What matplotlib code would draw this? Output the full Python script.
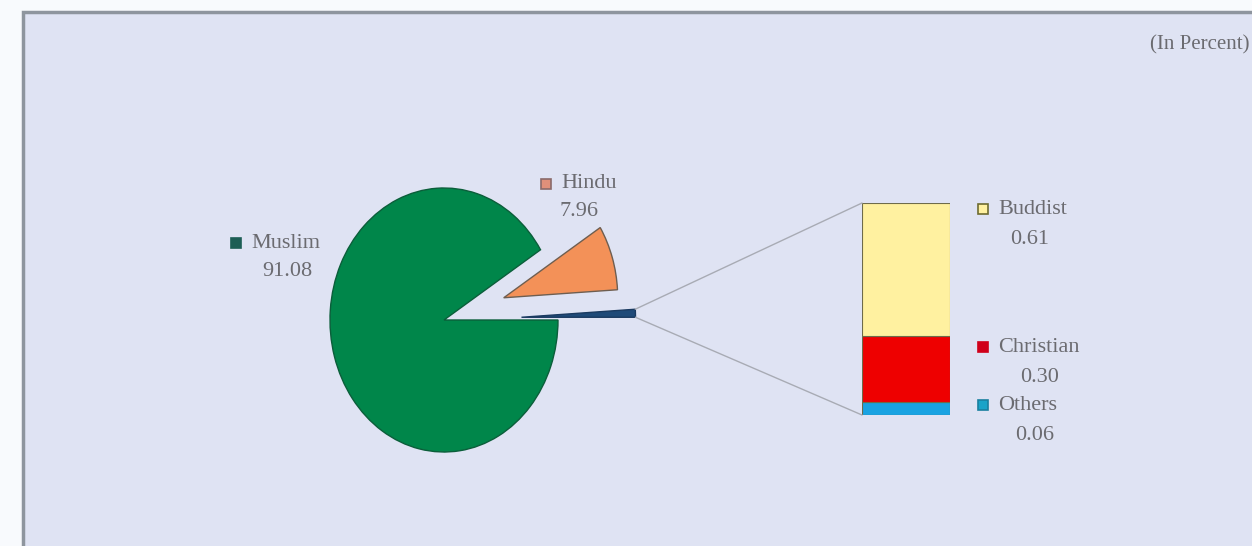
import matplotlib
matplotlib.use("Agg")
import matplotlib.pyplot as plt
from matplotlib.patches import ConnectionPatch, Rectangle
import numpy as np

# pie data (counterclockwise from 0 deg): combined small groups, Hindu, Muslim
pie_names = ["Others", "Hindu", "Muslim"]
pie_values = [0.97, 7.96, 91.08]
pie_colors = ["#1F4A78", "#F39158", "#00864A"]
pie_edges = ["#1A3A60", "#6E5E50", "#0B5E3A"]
pie_explode = [0.68, 0.55, 0.0]

# bar data (bottom to top)
bar_names = ["Others", "Christian", "Buddist"]
bar_values = [0.06, 0.30, 0.61]
bar_colors = ["#1AA3E2", "#EE0000", "#FFF1A0"]

W, H = 1252, 546
fig = plt.figure(figsize=(W / 100, H / 100), dpi=100)
fig.patch.set_facecolor("#F8FAFD")

# background panel in pixel coords
bg = fig.add_axes([0, 0, 1, 1])
bg.set_xlim(0, W)
bg.set_ylim(H, 0)
bg.axis("off")
bg.add_patch(Rectangle((23, 12), 1260, 560, facecolor="#DFE3F3",
                       edgecolor="#8E959E", lw=2.5))

def px_axes(x0, y0, x1, y1):
    return fig.add_axes([x0 / W, 1 - y1 / H, (x1 - x0) / W, (y1 - y0) / H])

# pie axes: center (444, 320), rx 114 px, ry 132 px
cx, cy, rx, ry = 444, 320, 114, 132
ax = px_axes(cx - 2.2 * rx, cy - 1.6 * ry, cx + 2.2 * rx, cy + 1.6 * ry)
wedges, _ = ax.pie(pie_values, colors=pie_colors, explode=pie_explode,
                   startangle=0, counterclock=True,
                   wedgeprops=dict(linewidth=1.0))
for w, ec in zip(wedges, pie_edges):
    w.set_edgecolor(ec)
ax.set_aspect("auto")
ax.set_xlim(-2.2, 2.2)
ax.set_ylim(-1.6, 1.6)
ax.axis("off")

# stacked bar
bx = px_axes(862, 203, 950, 415)
bottom = 0
for v, c in zip(bar_values, bar_colors):
    bx.bar(0, v, width=1, bottom=bottom, color=c, align="edge",
           edgecolor="#6E6B4A", linewidth=0.8)
    bottom += v
bx.set_xlim(0, 1)
bx.set_ylim(0, sum(bar_values))
bx.axis("off")

# connector lines from the small wedge to the bar
sw = wedges[0]
wcx, wcy = sw.center
for th, yb in [(sw.theta2, sum(bar_values)), (sw.theta1, 0)]:
    p = (wcx + sw.r * np.cos(np.radians(th)), wcy + sw.r * np.sin(np.radians(th)))
    con = ConnectionPatch(xyA=p, coordsA=ax.transData, xyB=(0, yb),
                          coordsB=bx.transData, color="#A8ABB4", lw=1.0)
    fig.add_artist(con)

# labels with small keys
font = dict(family="Liberation Serif", color="#6B6B70", fontsize=16)
labels = [
    ("Muslim", "91.08", "#1D5E55", "#1D5E55", 236, 243, 287, 272),
    ("Hindu", "7.96", "#E0907A", "#8A6A6A", 546, 184, 579, 211),
    (bar_names[2], "%.2f" % bar_values[2], "#FFF1A0", "#6E6B30", 983, 209, 1030, 240),
    (bar_names[1], "%.2f" % bar_values[1], "#D0001A", "#D0001A", 983, 347, 1040, 378),
    (bar_names[0], "%.2f" % bar_values[0], "#1AA3C8", "#1A80A0", 983, 405, 1035, 436),
]
for name, val, fc, ec, mx, my, vx, vy in labels:
    bg.add_patch(Rectangle((mx - 5, my - 5), 10, 10, facecolor=fc,
                           edgecolor=ec, lw=1.2))
    bg.text(mx + 15, my, name, ha="left", va="center", **font)
    bg.text(vx, vy, val, ha="center", va="center", **font)

bg.text(1250, 45, "(In Percent)", ha="right", va="center",
        **dict(font, fontsize=15))

fig.savefig("out.png", dpi=100, facecolor=fig.get_facecolor())
